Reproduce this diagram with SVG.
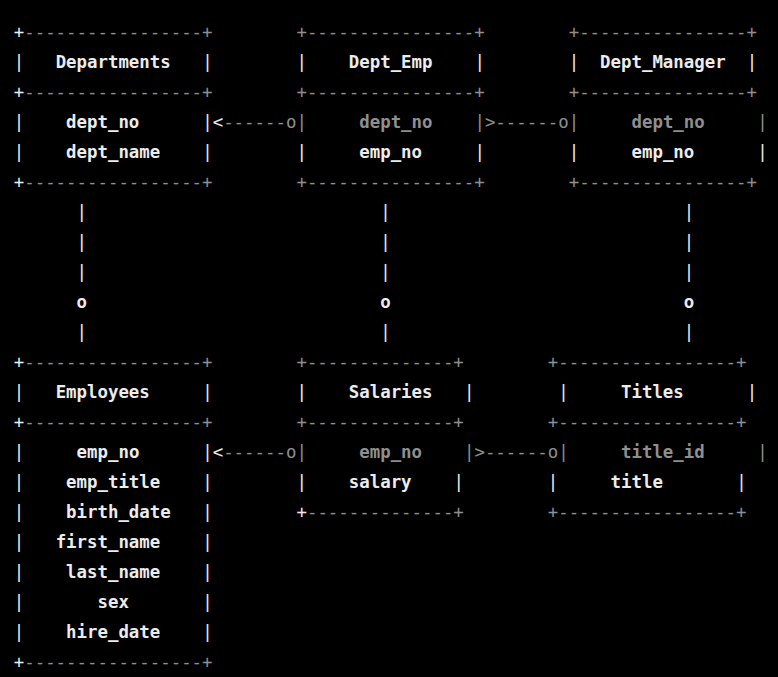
<svg xmlns="http://www.w3.org/2000/svg" width="778" height="677" viewBox="0 0 778 677">
<style>
text{font-family:"DejaVu Sans Mono","Liberation Mono",monospace;font-size:17.39px;white-space:pre}
.w{fill:#ececec}
.g{fill:#8f8f8f}
.b{font-weight:bold}
</style>
<rect width="778" height="677" fill="#000"/>
<g id="Departments">
<text x="13.77" y="38.3" class="w">+</text><text x="24.24" y="38.3" class="g">-----------------+</text>
<text x="13.77" y="68.3" class="w">|</text><text x="55.65" y="68.3" class="w b">Departments</text><text x="202.23" y="68.3" class="w">|</text>
<text x="13.77" y="98.3" class="w">+</text><text x="24.24" y="98.3" class="g">-----------------+</text>
<text x="13.77" y="128.3" class="w">|</text><text x="66.12" y="128.3" class="w b">dept_no</text><text x="202.23" y="128.3" class="w">|</text>
<text x="13.77" y="158.3" class="w">|</text><text x="66.12" y="158.3" class="w b">dept_name</text><text x="202.23" y="158.3" class="w">|</text>
<text x="13.77" y="188.3" class="w">+</text><text x="24.24" y="188.3" class="g">-----------------+</text>
</g>
<g id="Dept_Emp">
<text x="296.46" y="38.3" class="g">+----------------+</text>
<text x="296.46" y="68.3" class="w">|</text><text x="348.81" y="68.3" class="w b">Dept_Emp</text><text x="474.45" y="68.3" class="w">|</text>
<text x="296.46" y="98.3" class="g">+----------------+</text>
<text x="296.46" y="128.3" class="g">|</text><text x="359.28" y="128.3" class="g b">dept_no</text><text x="474.45" y="128.3" class="g">|</text>
<text x="296.46" y="158.3" class="w">|</text><text x="359.28" y="158.3" class="w b">emp_no</text><text x="474.45" y="158.3" class="w">|</text>
<text x="296.46" y="188.3" class="g">+----------------+</text>
</g>
<g id="Dept_Manager">
<text x="568.68" y="38.3" class="g">+----------------+</text>
<text x="568.68" y="68.3" class="w">|</text><text x="600.09" y="68.3" class="w b">Dept_Manager</text><text x="746.67" y="68.3" class="w">|</text>
<text x="568.68" y="98.3" class="g">+----------------+</text>
<text x="568.68" y="128.3" class="g">|</text><text x="631.5" y="128.3" class="g b">dept_no</text><text x="757.14" y="128.3" class="g">|</text>
<text x="568.68" y="158.3" class="w">|</text><text x="631.5" y="158.3" class="w b">emp_no</text><text x="757.14" y="158.3" class="w">|</text>
<text x="568.68" y="188.3" class="g">+----------------+</text>
</g>
<g id="Employees">
<text x="13.77" y="368.3" class="w">+</text><text x="24.24" y="368.3" class="g">-----------------+</text>
<text x="13.77" y="398.3" class="w">|</text><text x="55.65" y="398.3" class="w b">Employees</text><text x="202.23" y="398.3" class="w">|</text>
<text x="13.77" y="428.3" class="w">+</text><text x="24.24" y="428.3" class="g">-----------------+</text>
<text x="13.77" y="458.3" class="w">|</text><text x="76.59" y="458.3" class="w b">emp_no</text><text x="202.23" y="458.3" class="w">|</text>
<text x="13.77" y="488.3" class="w">|</text><text x="66.12" y="488.3" class="w b">emp_title</text><text x="202.23" y="488.3" class="w">|</text>
<text x="13.77" y="518.3" class="w">|</text><text x="66.12" y="518.3" class="w b">birth_date</text><text x="202.23" y="518.3" class="w">|</text>
<text x="13.77" y="548.3" class="w">|</text><text x="55.65" y="548.3" class="w b">first_name</text><text x="202.23" y="548.3" class="w">|</text>
<text x="13.77" y="578.3" class="w">|</text><text x="66.12" y="578.3" class="w b">last_name</text><text x="202.23" y="578.3" class="w">|</text>
<text x="13.77" y="608.3" class="w">|</text><text x="97.53" y="608.3" class="w b">sex</text><text x="202.23" y="608.3" class="w">|</text>
<text x="13.77" y="638.3" class="w">|</text><text x="66.12" y="638.3" class="w b">hire_date</text><text x="202.23" y="638.3" class="w">|</text>
<text x="13.77" y="668.3" class="w">+</text><text x="24.24" y="668.3" class="g">-----------------+</text>
</g>
<g id="Salaries">
<text x="296.46" y="368.3" class="g">+--------------+</text>
<text x="296.46" y="398.3" class="w">|</text><text x="348.81" y="398.3" class="w b">Salaries</text><text x="463.98" y="398.3" class="w">|</text>
<text x="296.46" y="428.3" class="g">+--------------+</text>
<text x="296.46" y="458.3" class="g">|</text><text x="359.28" y="458.3" class="g b">emp_no</text><text x="463.98" y="458.3" class="g">|</text>
<text x="296.46" y="488.3" class="w">|</text><text x="348.81" y="488.3" class="w b">salary</text><text x="453.51" y="488.3" class="w">|</text>
<text x="296.46" y="518.3" class="w">+</text><text x="306.93" y="518.3" class="g">--------------+</text>
</g>
<g id="Titles">
<text x="547.74" y="368.3" class="g">+-----------------+</text>
<text x="558.21" y="398.3" class="w">|</text><text x="621.03" y="398.3" class="w b">Titles</text><text x="746.67" y="398.3" class="w">|</text>
<text x="547.74" y="428.3" class="g">+-----------------+</text>
<text x="558.21" y="458.3" class="g">|</text><text x="621.03" y="458.3" class="g b">title_id</text><text x="757.14" y="458.3" class="g">|</text>
<text x="547.74" y="488.3" class="w">|</text><text x="610.56" y="488.3" class="w b">title</text><text x="736.2" y="488.3" class="w">|</text>
<text x="547.74" y="518.3" class="g">+-----------------+</text>
</g>
<g id="connectors">
<text x="212.7" y="128.3" class="w">&lt;</text><text x="223.17" y="128.3" class="g">------o</text>
<text x="484.92" y="128.3" class="g">&gt;------o</text>
<text x="212.7" y="458.3" class="w">&lt;</text><text x="223.17" y="458.3" class="g">------o</text>
<text x="474.45" y="458.3" class="g">&gt;------o</text>
<text x="76.59" y="218.3" class="w">|</text><text x="76.59" y="248.3" class="w">|</text><text x="76.59" y="278.3" class="w">|</text><text x="76.59" y="308.3" class="w b">o</text><text x="76.59" y="338.3" class="w">|</text>
<text x="380.22" y="218.3" class="w">|</text><text x="380.22" y="248.3" class="w">|</text><text x="380.22" y="278.3" class="w">|</text><text x="380.22" y="308.3" class="w b">o</text><text x="380.22" y="338.3" class="w">|</text>
<text x="683.85" y="218.3" class="w">|</text><text x="683.85" y="248.3" class="w">|</text><text x="683.85" y="278.3" class="w">|</text><text x="683.85" y="308.3" class="w b">o</text><text x="683.85" y="338.3" class="w">|</text>
</g>
</svg>
